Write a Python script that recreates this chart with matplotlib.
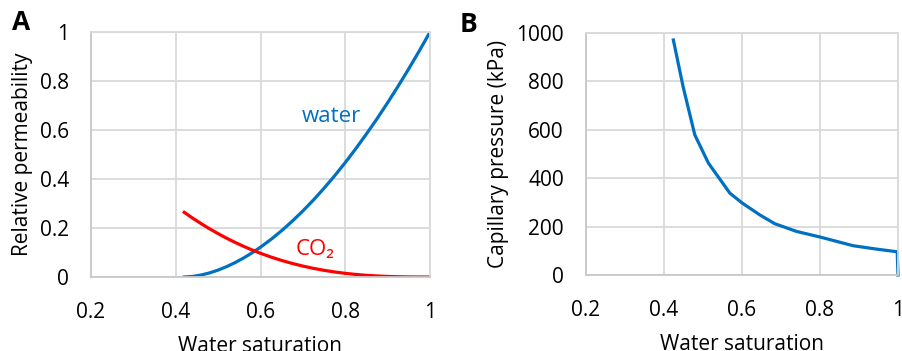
import matplotlib
matplotlib.use("Agg")
import matplotlib.pyplot as plt

plt.rcParams['font.family'] = ['Open Sans', 'DejaVu Sans']

# relative permeability (panel A)
sw_kr = [0.42, 0.44, 0.46, 0.48, 0.5, 0.52, 0.54, 0.56, 0.58, 0.6, 0.625, 0.65,
         0.675, 0.7, 0.725, 0.75, 0.775, 0.8, 0.825, 0.85, 0.875, 0.9, 0.925,
         0.95, 0.975, 1.0]
kr_water = [0.0, 0.0023, 0.0081, 0.0168, 0.0283, 0.0423, 0.0587, 0.0775, 0.0985,
            0.1217, 0.1538, 0.1892, 0.2279, 0.2696, 0.3144, 0.3624, 0.4132,
            0.4671, 0.5241, 0.5838, 0.646, 0.7114, 0.7794, 0.8502, 0.9237, 1.0]
kr_co2 = [0.264, 0.24, 0.2177, 0.1966, 0.1769, 0.1584, 0.1412, 0.1252, 0.1104,
          0.0968, 0.0813, 0.0675, 0.0553, 0.0445, 0.0352, 0.0272, 0.0205,
          0.0149, 0.0104, 0.0068, 0.0042, 0.0023, 0.0011, 0.00035, 0.00005, 0.0]

# capillary pressure (panel B)
sw_pc = [0.424, 0.449, 0.479, 0.514, 0.569, 0.6, 0.646, 0.684, 0.74, 0.8, 0.885, 0.945, 0.998, 1.0]
pc = [971, 778, 579, 462, 338, 298, 248, 212, 180, 157, 121, 107, 96, 0]

blue = '#0070c0'
red = '#ff0000'
grid_c = '#d9d9d9'

fig = plt.figure(figsize=(9.02, 3.51), dpi=100)
axA = fig.add_axes([91/902, 1 - 277/351, (430 - 91)/902, (277 - 32)/351])
axB = fig.add_axes([586/902, 1 - 275/351, (898 - 586)/902, (275 - 33)/351])


def style(ax):
    ax.grid(True, color=grid_c, linewidth=1.3)
    ax.set_axisbelow(True)
    for s in ax.spines.values():
        s.set_color(grid_c)
        s.set_linewidth(1.3)
    ax.spines['left'].set_color('#c8c8c8')
    ax.spines['bottom'].set_color('#c8c8c8')
    ax.tick_params(length=0, labelsize=15, colors='black')
    ax.tick_params(axis='x', pad=18)
    ax.tick_params(axis='y', pad=16)
    ax.set_xlim(0.2, 1.0)
    ax.set_xticks([0.2, 0.4, 0.6, 0.8, 1.0])
    ax.set_xticklabels(['0.2', '0.4', '0.6', '0.8', '1'])
    ax.set_xlabel('Water saturation', fontsize=15, labelpad=9)


style(axA)
axA.plot(sw_kr, kr_water, color=blue, lw=2.3)
axA.plot(sw_kr, kr_co2, color=red, lw=2.3)
axA.set_ylim(0, 1)
axA.set_yticks([0, 0.2, 0.4, 0.6, 0.8, 1.0])
axA.set_yticklabels(['0', '0.2', '0.4', '0.6', '0.8', '1'])
axA.set_ylabel('Relative permeability', fontsize=15, labelpad=5)
axA.text(0.768, 0.656, 'water', color=blue, fontsize=16, ha='center', va='center')
axA.text(0.729, 0.112, 'CO₂', color=red, fontsize=16, ha='center', va='center')

style(axB)
axB.plot(sw_pc, pc, color=blue, lw=2.3, clip_on=False)
axB.set_ylim(0, 1000)
axB.set_yticks([0, 200, 400, 600, 800, 1000])
axB.set_ylabel('Capillary pressure (kPa)', fontsize=15, labelpad=5)

fig.text(21/902, 1 - 23/351, 'A', fontsize=19, fontweight='bold', ha='center', va='center')
fig.text(469/902, 1 - 24/351, 'B', fontsize=19, fontweight='bold', ha='center', va='center')

fig.savefig('out.png', dpi=100)
